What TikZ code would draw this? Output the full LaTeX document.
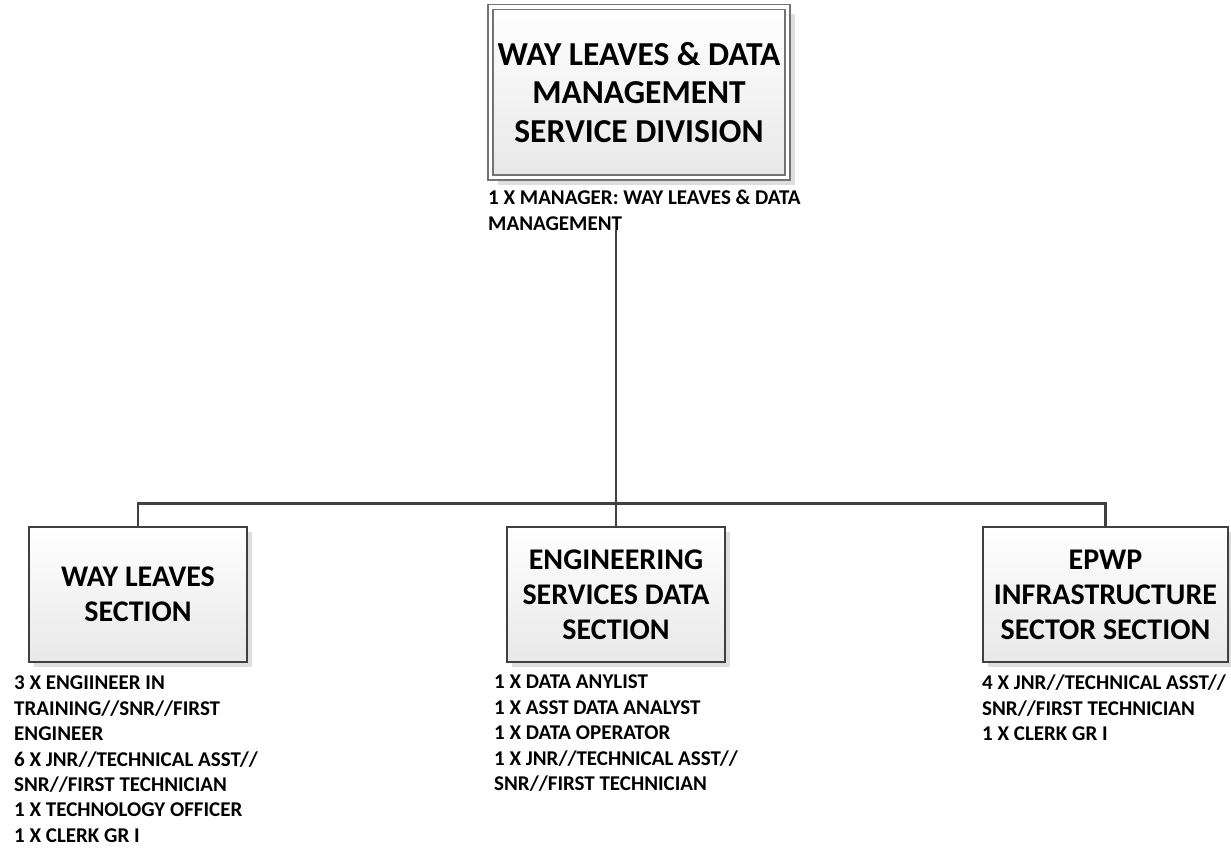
\documentclass[tikz,border=0pt]{standalone}
\usepackage{fontspec}
\setmainfont{Carlito}
\usetikzlibrary{positioning}
\usetikzlibrary{shadows}

\begin{document}
\begin{tikzpicture}[x=1pt, y=-1pt,
    V/.style={draw=black!55, line width=1.2pt, double=white, double distance=3.8pt,
      top color=white, bottom color=black!9, align=center, inner sep=0pt,
      minimum width=297pt, minimum height=170.5pt,
      font=\bfseries\fontsize{33.5}{38.5}\selectfont,
      drop shadow={shadow xshift=7pt, shadow yshift=-7pt, fill=black!13, opacity=1}},
    S/.style={draw=black!75, line width=1.2pt, top color=white, bottom color=black!9,
      align=center, inner sep=0pt, minimum width=218pt, minimum height=135pt,
      font=\bfseries\fontsize{30}{35}\selectfont,
      drop shadow={shadow xshift=5pt, shadow yshift=-5pt, fill=black!13, opacity=1}},
    L/.style={anchor=north west, align=left, inner sep=0pt,
      font=\bfseries\fontsize{21}{25.4}\selectfont},
    C/.style={draw=black!75, line width=2.5pt}]
    \useasboundingbox (0,0) rectangle (1231,848);

    \node[V] (div) at (639,92.25) {WAY LEAVES \& DATA\\MANAGEMENT\\SERVICE DIVISION};
    \node[L] (mgr) at (488,190) {1 X MANAGER: WAY LEAVES \& DATA\\MANAGEMENT};

    \node[S] (wl) at (138,594.5) {WAY LEAVES\\SECTION};
    \node[S] (esd) at (616,594.5) {ENGINEERING\\SERVICES DATA\\SECTION};
    \node[S, minimum width=245pt] (epwp) at (1105.5,594.5) {EPWP\\INFRASTRUCTURE\\SECTOR SECTION};

    \node[L] (wlstaff) at (14,676) {3 X ENGIINEER IN\\TRAINING//SNR//FIRST\\ENGINEER\\6 X JNR//TECHNICAL ASST//\\SNR//FIRST TECHNICIAN\\1 X TECHNOLOGY OFFICER\\1 X CLERK GR I};
    \node[L] (esdstaff) at (494,675) {1 X DATA ANYLIST\\1 X ASST DATA ANALYST\\1 X DATA OPERATOR\\1 X JNR//TECHNICAL ASST//\\SNR//FIRST TECHNICIAN};
    \node[L] (epwpstaff) at (982,675) {4 X JNR//TECHNICAL ASST//\\SNR//FIRST TECHNICIAN\\1 X CLERK GR I};

    \coordinate (bus) at ([yshift=23pt]esd.north);
    \draw[C] (mgr.south -| esd.north) -- (esd.north);
    \draw[C] (wl.north) |- (bus) -| (epwp.north);
\end{tikzpicture}
\end{document}
